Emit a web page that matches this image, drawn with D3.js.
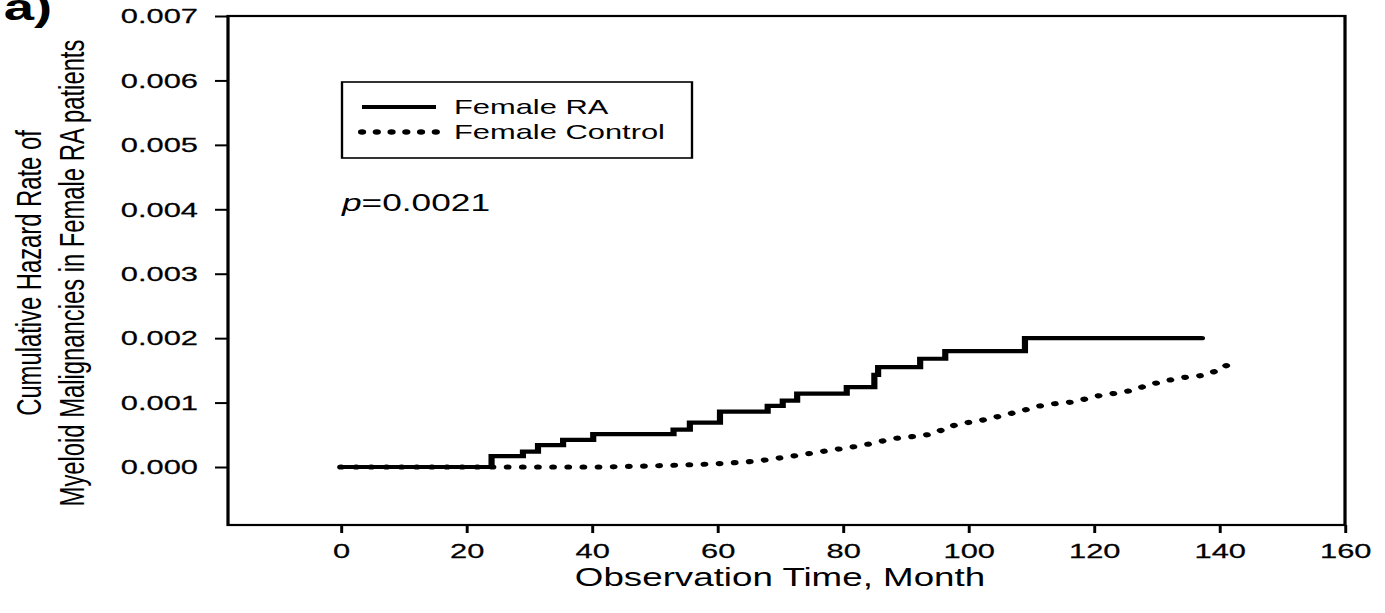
<!DOCTYPE html>
<html>
<head>
<script src="https://cdn.jsdelivr.net/npm/d3@7"></script>
<style>
  body { margin: 0; background: #fff; }
  text { font-family: "Liberation Sans", Arial, sans-serif; fill: #000; }
</style>
</head>
<body>
<svg id="chart"></svg>
<script>
// Data (months, cumulative hazard)
var raMonths = [0, 24, 29, 31.4, 35.4, 40.2, 53, 55.6, 60.4, 68, 70.4, 72.7, 80.6, 85, 85.6, 92.3, 96.3, 109, 137.2];
var raHazard = [0, 0.00017, 0.00024, 0.00034, 0.00042, 0.00051, 0.00058, 0.00069, 0.00086, 0.00095, 0.00103, 0.00114, 0.00124, 0.00143, 0.00155, 0.00168, 0.0018, 0.002, 0.002];

var ctrlMonths = [0, 40, 46.5, 54, 61.5, 66.8, 71.3, 78, 82.7, 88.8, 93.9, 97.5, 102.3, 108, 112, 116.5, 121, 125.5, 129, 133.7, 138, 141.2];
var ctrlHazard = [0, 0, 0.00001, 0.00003, 0.00006, 0.0001, 0.00016, 0.00026, 0.00033, 0.00045, 0.00051, 0.00064, 0.00073, 0.00086, 0.00096, 0.00101, 0.00111, 0.00118, 0.00128, 0.00138, 0.00144, 0.00158];

var xTicks = [0, 20, 40, 60, 80, 100, 120, 140, 160];
var yTicks = [0, 0.001, 0.002, 0.003, 0.004, 0.005, 0.006, 0.007];
var seriesNames = ["Female RA", "Female Control"];

// the original picture is stretched sideways, so draw in a narrow viewBox
var W = 1385, H = 613, S = 1.47;
var svg = d3.select("svg#chart")
    .attr("width", W).attr("height", H)
    .attr("viewBox", "0 0 " + (W / S) + " " + H)
    .attr("preserveAspectRatio", "none");

var plotL = 228 / S, plotR = 1345 / S, plotT = 16, plotB = 525;

var x = d3.scaleLinear().domain([-18, 160]).range([plotL, plotR]);
var y = d3.scaleLinear().domain([-0.0009, 0.007]).range([plotB, plotT]);

// frame
svg.append("rect").attr("x", plotL).attr("y", plotT)
    .attr("width", plotR - plotL).attr("height", plotB - plotT)
    .attr("fill", "none").attr("stroke", "#000").attr("stroke-width", 2.2);

// axes
var yAxis = svg.append("g").attr("transform", "translate(" + plotL + ",0)")
    .call(d3.axisLeft(y).tickValues(yTicks).tickFormat(d3.format(".3f"))
        .tickSize(13 / S).tickPadding(17 / S));
yAxis.select(".domain").remove();
yAxis.selectAll("line").attr("stroke-width", 2);
yAxis.selectAll("text").attr("font-size", 21).attr("font-family", null)
    .attr("stroke", "#000").attr("stroke-width", 0.25);

var xAxis = svg.append("g").attr("transform", "translate(0," + plotB + ")")
    .call(d3.axisBottom(x).tickValues(xTicks).tickSize(8).tickPadding(10));
xAxis.select(".domain").remove();
xAxis.selectAll("line").attr("stroke-width", 2);
xAxis.selectAll("text").attr("font-size", 21).attr("font-family", null)
    .attr("stroke", "#000").attr("stroke-width", 0.25);

// axis titles
svg.append("text").attr("x", 780 / S).attr("y", 586)
    .attr("text-anchor", "middle").attr("font-size", 25)
    .text("Observation Time, Month");

svg.append("text").attr("transform", "translate(" + (41 / S) + ",273) rotate(-90)")
    .attr("text-anchor", "middle").attr("font-size", 23.8)
    .text("Cumulative Hazard Rate of");
svg.append("text").attr("transform", "translate(" + (84 / S) + ",273) rotate(-90)")
    .attr("text-anchor", "middle").attr("font-size", 23.8)
    .text("Myeloid Malignancies in Female RA patients");

// panel letter (cut at the top edge, as in the source)
svg.append("text").attr("x", 52 / S).attr("y", 20)
    .attr("text-anchor", "end").attr("font-size", 37).attr("font-weight", "bold")
    .text("a)");

// curves
var raData = raMonths.map(function(m, i) { return [m, raHazard[i]]; });
var ctrlData = ctrlMonths.map(function(m, i) { return [m, ctrlHazard[i]]; });

var stepLine = d3.line().curve(d3.curveStepAfter)
    .x(function(d) { return x(d[0]); }).y(function(d) { return y(d[1]); });
var smoothLine = d3.line().curve(d3.curveMonotoneX)
    .x(function(d) { return x(d[0]); }).y(function(d) { return y(d[1]); });

svg.append("path").datum(ctrlData).attr("d", smoothLine)
    .attr("fill", "none").attr("stroke", "#000").attr("stroke-width", 5.2)
    .attr("stroke-linecap", "round").attr("stroke-dasharray", "0.1," + (15 / S));

svg.append("path").datum(raData).attr("d", stepLine)
    .attr("fill", "none").attr("stroke", "#000").attr("stroke-width", 4.2)
    .attr("stroke-linecap", "round");

// legend
svg.append("rect").attr("x", 342 / S).attr("y", 82)
    .attr("width", (692 - 342) / S).attr("height", 76)
    .attr("fill", "none").attr("stroke", "#000").attr("stroke-width", 1.6);

var legY = [107, 132];
svg.append("line").attr("x1", 362 / S).attr("x2", 436 / S).attr("y1", legY[0]).attr("y2", legY[0])
    .attr("stroke", "#000").attr("stroke-width", 4.2);
svg.append("line").attr("x1", 362 / S).attr("x2", 436 / S).attr("y1", legY[1]).attr("y2", legY[1])
    .attr("stroke", "#000").attr("stroke-width", 5.5).attr("stroke-linecap", "round")
    .attr("stroke-dasharray", "0.1," + (14.6 / S));
seriesNames.forEach(function(name, i) {
    svg.append("text").attr("x", 454 / S).attr("y", legY[i] + 7)
        .attr("font-size", 21).text(name);
});

// p value
var pText = svg.append("text").attr("x", 342 / S).attr("y", 211).attr("font-size", 24);
pText.append("tspan").attr("font-style", "italic").text("p");
pText.append("tspan").text("=0.0021");
</script>
</body>
</html>
